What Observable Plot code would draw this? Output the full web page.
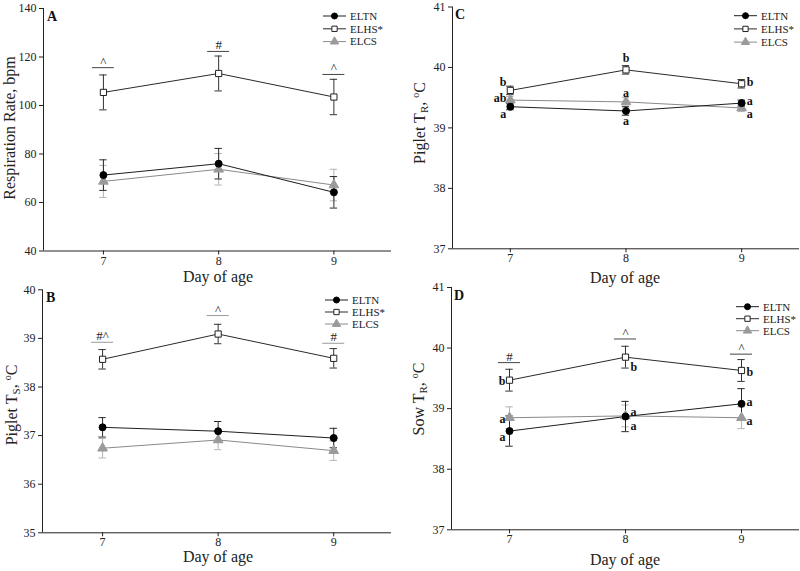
<!DOCTYPE html>
<html><head><meta charset="utf-8">
<script src="https://cdn.jsdelivr.net/npm/d3@7"></script>
<script src="https://cdn.jsdelivr.net/npm/@observablehq/plot@0.6"></script>
<style>
body{margin:0;background:#fff;}
#wrap{position:relative;width:800px;height:571px;font-family:"Liberation Serif",serif;color:#222;overflow:hidden;}
.panel{position:absolute;}
.ylab{position:absolute;transform:translate(-50%,-50%) rotate(-90deg);white-space:nowrap;font-size:16px;line-height:16px;}
.ylab sub{font-size:11px;vertical-align:-3px;}
.ylab sup{font-size:10px;vertical-align:6px;}
.xlab{position:absolute;transform:translate(-50%,0);font-size:16px;line-height:16px;white-space:nowrap;}
</style></head>
<body><div id="wrap"></div>
<script>
// ---- data ----
const days = [7, 8, 9];
const series = ["ELTN", "ELHS*", "ELCS"];

// Panel A: respiration rate, bpm (mean, SE) for ELTN, ELHS*, ELCS
const rrELTN = [71.3, 76.0, 64.2],   rrELTNse = [6.3, 6.3, 6.5];
const rrELHS = [105.4, 113.2, 103.5], rrELHSse = [7.2, 7.2, 7.3];
const rrELCS = [68.7, 73.7, 67.2],   rrELCSse = [6.6, 6.5, 6.5];
const rrSig = [{day: 7, y: 115.6, label: "^"}, {day: 8, y: 122.3, label: "#"}, {day: 9, y: 112.8, label: "^"}];

// Panel B: piglet skin temperature
const tsELTN = [37.17, 37.09, 36.95], tsELTNse = [0.2, 0.2, 0.2];
const tsELHS = [38.57, 39.09, 38.59], tsELHSse = [0.2, 0.2, 0.2];
const tsELCS = [36.74, 36.91, 36.69], tsELCSse = [0.2, 0.2, 0.2];
const tsSig = [{day: 7, y: 38.92, label: "#^"}, {day: 8, y: 39.47, label: "^"}, {day: 9, y: 38.9, label: "#"}];

// Panel C: piglet rectal temperature
const trELTN = [39.35, 39.28, 39.41], trELTNse = [0.05, 0.07, 0.05];
const trELHS = [39.62, 39.96, 39.73], trELHSse = [0.07, 0.07, 0.07];
const trELCS = [39.46, 39.43, 39.33], trELCSse = [0.06, 0.07, 0.06];
const trLetters = [
  {day: 7, y: 39.75, label: "b", side: "left"}, {day: 7, y: 39.5, label: "ab", side: "left"}, {day: 7, y: 39.23, label: "a", side: "left"},
  {day: 8, y: 40.15, label: "b", side: "center"}, {day: 8, y: 39.57, label: "a", side: "center"}, {day: 8, y: 39.11, label: "a", side: "center"},
  {day: 9, y: 39.75, label: "b", side: "right"}, {day: 9, y: 39.45, label: "a", side: "right"}, {day: 9, y: 39.22, label: "a", side: "right"}
];

// Panel D: sow rectal temperature
const sowELTN = [38.63, 38.87, 39.08], sowELTNse = [0.25, 0.25, 0.25];
const sowELHS = [39.47, 39.85, 39.63], sowELHSse = [0.18, 0.18, 0.18];
const sowELCS = [38.85, 38.88, 38.85], sowELCSse = [0.18, 0.18, 0.18];
const sowSig = [{day: 7, y: 39.76, label: "#"}, {day: 8, y: 40.15, label: "^"}, {day: 9, y: 39.9, label: "^"}];
const sowLetters = [
  {day: 7, y: 39.46, label: "b", side: "left"}, {day: 7, y: 38.83, label: "a", side: "left"}, {day: 7, y: 38.53, label: "a", side: "left"},
  {day: 8, y: 39.69, label: "b", side: "right"}, {day: 8, y: 38.95, label: "a", side: "right"}, {day: 8, y: 38.71, label: "a", side: "right"},
  {day: 9, y: 39.6, label: "b", side: "right"}, {day: 9, y: 39.1, label: "a", side: "right"}, {day: 9, y: 38.79, label: "a", side: "right"}
];

// ---- styles ----
const sty = {
  "ELTN":  {line: "#1e1e1e", err: "#2a2a2a", fill: "#000", stroke: "#000", symbol: "circle", r: 3.5},
  "ELHS*": {line: "#2a2a2a", err: "#333", fill: "#fff", stroke: "#222", symbol: "square", r: 3.5},
  "ELCS":  {line: "#8a8a8a", err: "#b4b4b4", fill: "#9a9a9a", stroke: "#9a9a9a", symbol: "triangle", r: 3.6}
};
const drawOrder = ["ELCS", "ELTN", "ELHS*"];
const wrap = document.getElementById("wrap");

function panel(cfg) {
  const rows = [];
  series.forEach((s, i) => cfg.values[i].forEach((v, j) =>
    rows.push({series: s, day: days[j], value: v, lo: v - cfg.se[i][j], hi: v + cfg.se[i][j]})));
  const marks = [
    Plot.ruleX([cfg.xd[0]], {stroke: "#222"}),
    Plot.ruleY([cfg.yd[0]], {stroke: "#222"})
  ];
  for (const s of drawOrder) {
    const d = rows.filter(r => r.series === s), st = sty[s];
    marks.push(Plot.ruleX(d, {x: "day", y1: "lo", y2: "hi", stroke: st.err, strokeWidth: 1}));
    marks.push(Plot.ruleY(d, {y: "lo", x1: r => r.day - 0.032, x2: r => r.day + 0.032, stroke: st.err}));
    marks.push(Plot.ruleY(d, {y: "hi", x1: r => r.day - 0.032, x2: r => r.day + 0.032, stroke: st.err}));
  }
  for (const s of drawOrder) {
    const d = rows.filter(r => r.series === s), st = sty[s];
    marks.push(Plot.line(d, {x: "day", y: "value", stroke: st.line, strokeWidth: 1}));
  }
  for (const s of drawOrder) {
    const d = rows.filter(r => r.series === s), st = sty[s];
    marks.push(Plot.dot(d, {x: "day", y: "value", symbol: () => st.symbol, r: st.r, fill: st.fill, stroke: st.stroke, strokeWidth: 1}));
  }
  if (cfg.sig) {
    marks.push(Plot.ruleY(cfg.sig, {y: "y", x1: r => r.day - 0.095, x2: r => r.day + 0.095, stroke: cfg.sigColor || "#444"}));
    marks.push(Plot.text(cfg.sig, {x: "day", y: "y", text: "label", lineAnchor: "bottom", dy: -2, fontSize: 13, fill: "#222"}));
  }
  if (cfg.letters) {
    const L = cfg.letters;
    const o = {x: "day", y: "y", text: "label", fontSize: 12, fontWeight: "bold", fill: "#111"};
    marks.push(Plot.text(L.filter(d => d.side === "left"), {...o, textAnchor: "end", dx: -4}));
    marks.push(Plot.text(L.filter(d => d.side === "center"), {...o, textAnchor: "middle"}));
    marks.push(Plot.text(L.filter(d => d.side === "right"), {...o, textAnchor: "start", dx: 5}));
  }
  const svg = Plot.plot({
    width: 400, height: 285,
    marginLeft: cfg.ml, marginRight: cfg.mr, marginTop: cfg.mt, marginBottom: cfg.mb,
    style: {fontFamily: "Liberation Serif, serif", fontSize: "12px", color: "#222", background: "transparent", overflow: "visible"},
    x: {domain: cfg.xd, ticks: days, tickSize: 4, tickPadding: 1, label: null, tickFormat: d => String(d)},
    y: {domain: cfg.yd, ticks: cfg.yt, tickSize: 4, tickPadding: 3, label: null, tickFormat: d => String(d)},
    marks
  });
  svg.classList.add("panel");
  svg.style.left = cfg.left + "px";
  svg.style.top = cfg.top + "px";
  // legend and panel letter
  const g = d3.select(svg).append("g").attr("transform", `translate(${cfg.lx},${cfg.ly})`)
    .attr("font-family", "Liberation Serif, serif").attr("font-size", 11).attr("text-anchor", "start");
  series.forEach((s, i) => {
    const st = sty[s], y = i * cfg.lsp;
    g.append("line").attr("x1", 0).attr("x2", 23).attr("y1", y).attr("y2", y).attr("stroke", st.line);
    const sym = {circle: d3.symbolCircle, square: d3.symbolSquare, triangle: d3.symbolTriangle}[st.symbol];
    g.append("path").attr("d", d3.symbol(sym, st.symbol === "triangle" ? 30 : 28)()).attr("transform", `translate(11.5,${y})`)
      .attr("fill", st.fill).attr("stroke", st.stroke);
    g.append("text").attr("x", 27).attr("y", y).attr("dy", "0.35em").attr("fill", "#222").attr("text-anchor", "start").text(s);
  });
  d3.select(svg).append("text").attr("x", cfg.px).attr("y", cfg.py).attr("font-family", "Liberation Serif, serif")
    .attr("text-anchor", "start").attr("font-weight", "bold").attr("font-size", 14).attr("fill", "#111").text(cfg.letter);
  wrap.appendChild(svg);
  // axis titles
  const yl = document.createElement("div");
  yl.className = "ylab"; yl.innerHTML = cfg.ylabel;
  yl.style.left = cfg.ylx + "px"; yl.style.top = cfg.yly + "px";
  wrap.appendChild(yl);
  const xl = document.createElement("div");
  xl.className = "xlab"; xl.textContent = "Day of age";
  xl.style.left = cfg.xlx + "px"; xl.style.top = cfg.xly + "px";
  wrap.appendChild(xl);
}

panel({left: 0, top: 0, ml: 43, mr: 9, mt: 8, mb: 34.5, xd: [6.48, 9.5], yd: [40, 140], yt: [40, 60, 80, 100, 120, 140],
  values: [rrELTN, rrELHS, rrELCS], se: [rrELTNse, rrELHSse, rrELCSse], sig: rrSig,
  lx: 323, ly: 16, lsp: 12.8, px: 47, py: 21, letter: "A",
  ylabel: "Respiration Rate, bpm", ylx: 10, yly: 128, xlx: 218, xly: 269});

panel({left: 0, top: 281, ml: 42, mr: 9, mt: 8.3, mb: 33.7, xd: [6.48, 9.5], yd: [35, 40], yt: [35, 36, 37, 38, 39, 40],
  values: [tsELTN, tsELHS, tsELCS], se: [tsELTNse, tsELHSse, tsELCSse], sig: tsSig, sigColor: "#999",
  lx: 325, ly: 19, lsp: 12, px: 46, py: 21, letter: "B",
  ylabel: "Piglet T<sub>S</sub>, <sup>o</sup>C", ylx: 12, yly: 405, xlx: 218, xly: 549});

panel({left: 400, top: 0, ml: 52, mr: 1, mt: 6.5, mb: 36.7, xd: [6.5, 9.5], yd: [37, 41], yt: [37, 38, 39, 40, 41],
  values: [trELTN, trELHS, trELCS], se: [trELTNse, trELHSse, trELCSse], letters: trLetters,
  lx: 334, ly: 15.7, lsp: 13.2, px: 55, py: 19, letter: "C",
  ylabel: "Piglet T<sub>R</sub>, <sup>o</sup>C", ylx: 420, yly: 123, xlx: 625, xly: 270});

panel({left: 400, top: 281, ml: 51, mr: 1, mt: 6, mb: 36.7, xd: [6.5, 9.5], yd: [37, 41], yt: [37, 38, 39, 40, 41],
  values: [sowELTN, sowELHS, sowELCS], se: [sowELTNse, sowELHSse, sowELCSse], sig: sowSig, letters: sowLetters,
  lx: 336, ly: 25.7, lsp: 12, px: 54, py: 19, letter: "D",
  ylabel: "Sow T<sub>R</sub>, <sup>o</sup>C", ylx: 419, yly: 399, xlx: 625, xly: 552});
</script></body></html>
